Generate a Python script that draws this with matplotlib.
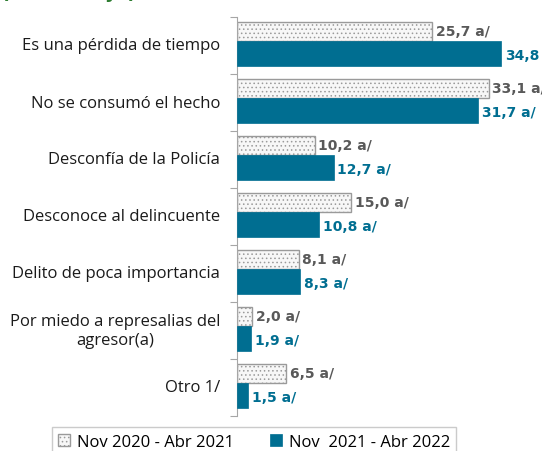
import matplotlib.pyplot as plt
import numpy as np

categorias = ["Es una pérdida de tiempo", "No se consumó el hecho", "Desconfía de la Policía",
              "Desconoce al delincuente", "Delito de poca importancia",
              "Por miedo a represalias del\nagresor(a)", "Otro 1/"]
serie_2021 = [25.7, 33.1, 10.2, 15.0, 8.1, 2.0, 6.5]
serie_2022 = [34.8, 31.7, 12.7, 10.8, 8.3, 1.9, 1.5]
etiquetas_2021 = ["25,7 a/", "33,1 a/", "10,2 a/", "15,0 a/", "8,1 a/", "2,0 a/", "6,5 a/"]
etiquetas_2022 = ["34,8", "31,7 a/", "12,7 a/", "10,8 a/", "8,3 a/", "1,9 a/", "1,5 a/"]
leyenda = ["Nov 2020 - Abr 2021", "Nov  2021 - Abr 2022"]

azul = "#006E91"
gris_txt = "#595959"

plt.rcParams["hatch.linewidth"] = 0.6

fig = plt.figure(figsize=(5.42, 4.52), dpi=100)
ax = fig.add_axes([237 / 542, 35 / 452, 304 / 542, 399 / 452])

y = np.arange(len(categorias))
b1 = ax.barh(y - 0.245, serie_2021, height=0.33, color="#F7F7F7", edgecolor="#9A9A9A",
             hatch="....", linewidth=1.0, label=leyenda[0], zorder=2)
b2 = ax.barh(y + 0.14, serie_2022, height=0.44, color=azul, edgecolor=azul,
             linewidth=0.5, label=leyenda[1], zorder=3)

for i in range(len(categorias)):
    ax.text(serie_2021[i] + 0.5, y[i] - 0.26, etiquetas_2021[i], va="center", ha="left",
            fontsize=10, fontweight="bold", color=gris_txt, family="DejaVu Sans")
    ax.text(serie_2022[i] + 0.5, y[i] + 0.17, etiquetas_2022[i], va="center", ha="left",
            fontsize=10, fontweight="bold", color=azul, family="DejaVu Sans")

ax.set_xlim(0, 40)
ax.set_ylim(len(categorias) - 0.5, -0.5)
for s in ["top", "right", "bottom"]:
    ax.spines[s].set_visible(False)
ax.spines["left"].set_color("#A6A6A6")
ax.set_xticks([])
ax.set_yticks(np.arange(len(categorias) + 1) - 0.5)
ax.set_yticklabels([])
ax.tick_params(axis="y", length=5, color="#A6A6A6")
for i, c in enumerate(categorias):
    ax.text(-2.2, y[i], c, ha="right", multialignment="center", va="center",
            fontsize=12, color="#1A1A1A", family="Open Sans", linespacing=1.2)

# titulo recortado en la parte superior
fig.text(0.0, 1 + 2 / 452, "(Porcentaje)", color="#2E7D32", fontsize=14,
         fontweight="bold", va="baseline", ha="left")

leg = fig.legend(handles=[b1, b2], labels=leyenda, loc="lower center",
                 bbox_to_anchor=(254 / 542, -14 / 452), ncol=2, frameon=True,
                 fancybox=False, edgecolor="#BFBFBF", handlelength=0.7,
                 handleheight=0.7, columnspacing=2.2, handletextpad=0.4,
                 prop={"family": "Open Sans", "size": 12})
leg.get_frame().set_linewidth(1.0)

fig.savefig("out.png", dpi=100)
